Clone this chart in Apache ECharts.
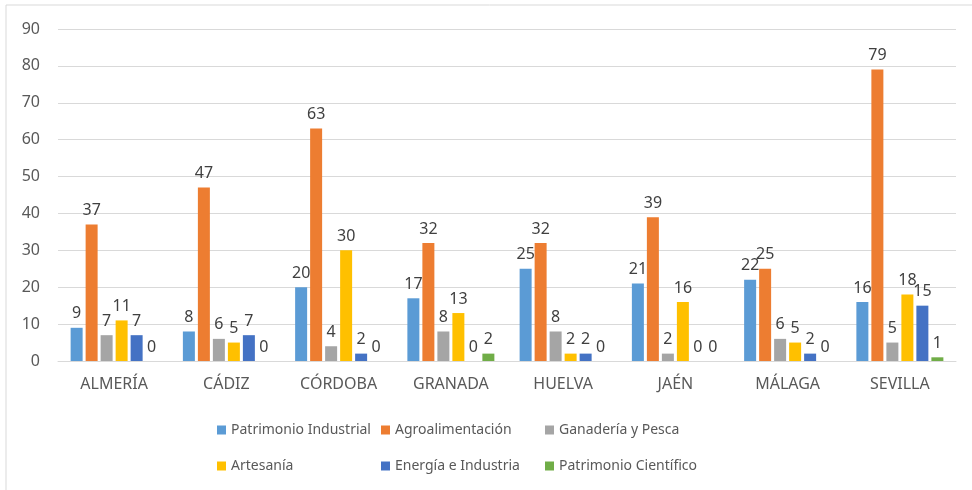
<!DOCTYPE html>
<html>
<head>
<meta charset="utf-8">
<script src="https://cdn.jsdelivr.net/npm/echarts@6/dist/echarts.min.js"></script>
<style>
  html, body { margin: 0; padding: 0; background: #fff; }
  #chart { width: 972px; height: 490px; }
</style>
</head>
<body>
<div id="chart"></div>
<script>
// Provinces and series values
const provinces = ["ALMERÍA", "CÁDIZ", "CÓRDOBA", "GRANADA", "HUELVA", "JAÉN", "MÁLAGA", "SEVILLA"];
const seriesNames = ["Patrimonio Industrial", "Agroalimentación", "Ganadería y Pesca", "Artesanía", "Energía e Industria", "Patrimonio Científico"];

const patrimonioIndustrial = [9, 8, 20, 17, 25, 21, 22, 16];
const agroalimentacion     = [37, 47, 63, 32, 32, 39, 25, 79];
const ganaderiaPesca       = [7, 6, 4, 8, 8, 2, 6, 5];
const artesania            = [11, 5, 30, 13, 2, 16, 5, 18];
const energiaIndustria     = [7, 7, 2, 0, 2, 0, 2, 15];
const patrimonioCientifico = [0, 0, 0, 2, 0, 0, 0, 1];

const seriesValues = [patrimonioIndustrial, agroalimentacion, ganaderiaPesca, artesania, energiaIndustria, patrimonioCientifico];
const colors = ["#5B9BD5", "#ED7D31", "#A5A5A5", "#FFC000", "#4472C4", "#70AD47"];

const FONT = "'Noto Sans', sans-serif";
const chart = echarts.init(document.getElementById("chart"));

// legend laid out as 3 columns x 2 rows, one vertical legend per column
const legendColumns = [212, 376, 540];
const legends = legendColumns.map((left, col) => ({
  orient: "vertical",
  left: left,
  top: 418,
  itemWidth: 9,
  itemHeight: 9,
  itemGap: 22,
  icon: "rect",
  data: [seriesNames[col], seriesNames[col + 3]],
  textStyle: { color: "#595959", fontSize: 14, fontFamily: FONT }
}));

chart.setOption({
  color: colors,
  animation: false,
  graphic: [{
    type: "rect",
    shape: { x: 6, y: 5, width: 1000, height: 520 },
    style: { fill: "none", stroke: "#d9d9d9", lineWidth: 1 },
    silent: true
  }],
  legend: legends,
  grid: { left: 58, right: 16, top: 29, bottom: 129 },
  xAxis: {
    type: "category",
    data: provinces,
    axisLine: { show: true, lineStyle: { color: "#d9d9d9" } },
    axisTick: { show: false },
    axisLabel: { color: "#595959", fontSize: 16, fontFamily: FONT, margin: 15 }
  },
  yAxis: {
    type: "value",
    min: 0,
    max: 90,
    interval: 10,
    axisLine: { show: false },
    axisTick: { show: false },
    axisLabel: { color: "#595959", fontSize: 16, fontFamily: FONT, margin: 18 },
    splitLine: { lineStyle: { color: "#d9d9d9", width: 1 } }
  },
  series: seriesNames.map((name, i) => ({
    name: name,
    type: "bar",
    data: seriesValues[i],
    barWidth: 12,
    barGap: "25%",
    label: {
      show: true,
      position: "top",
      distance: 6,
      color: "#404040",
      fontSize: 16,
      fontFamily: FONT
    }
  }))
});
</script>
</body>
</html>
